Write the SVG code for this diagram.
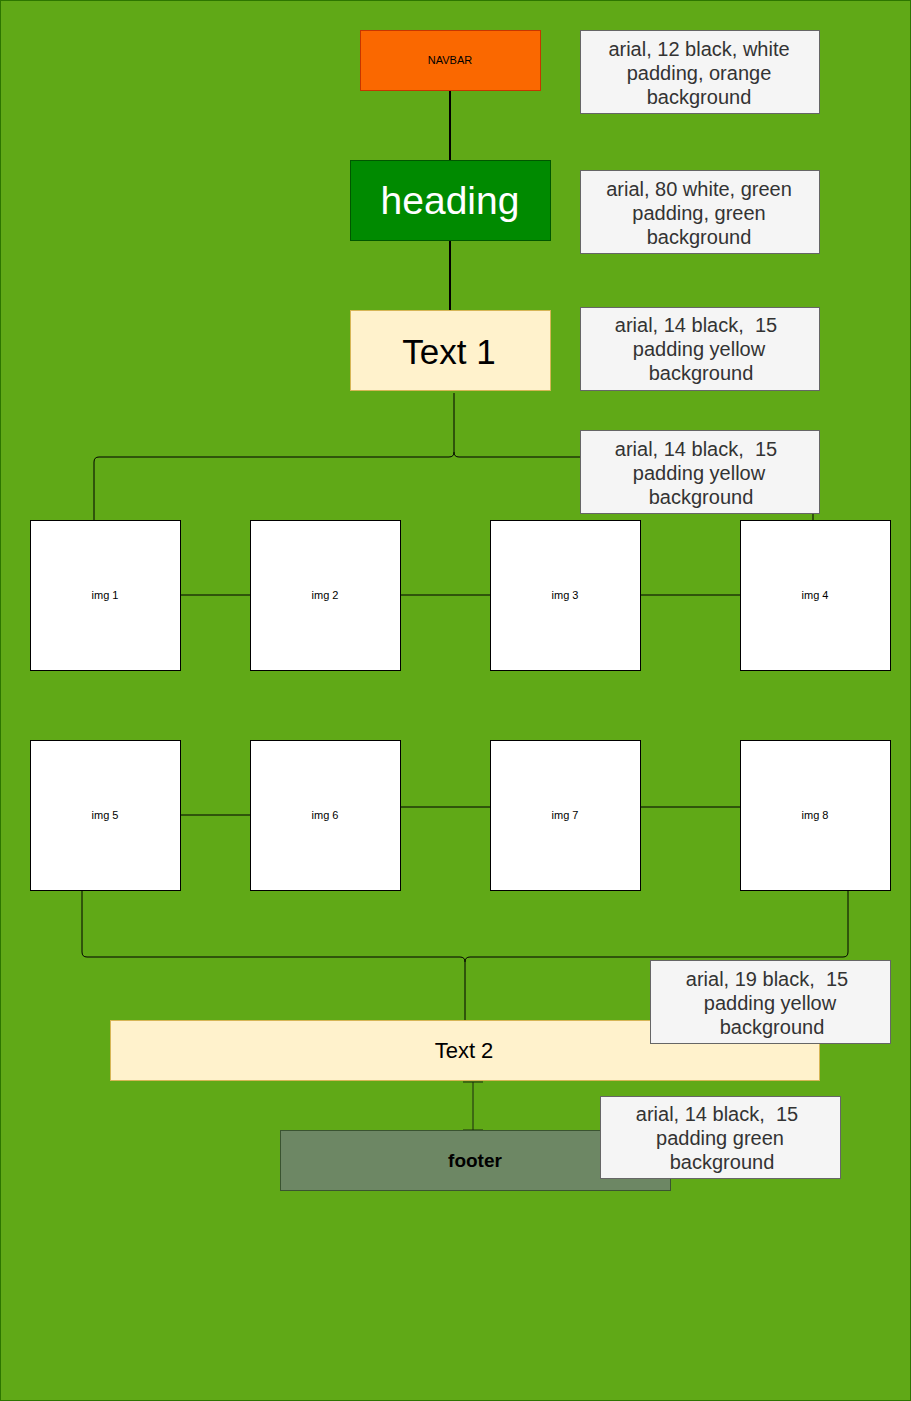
<svg xmlns="http://www.w3.org/2000/svg" width="911" height="1401" viewBox="0 0 911 1401">
<style>
text{font-family:"Liberation Sans",Arial,sans-serif;text-anchor:middle;dominant-baseline:central;white-space:pre}
.note rect{fill:#f5f5f5;stroke:#666666}
.note text{fill:#333333;font-size:20px}
.img rect{fill:#ffffff;stroke:#000000}
.img text{font-size:11px;fill:#000}
.c{fill:none;stroke:#000;stroke-width:1}
.thick{stroke-width:2}
</style>
<rect x="0.5" y="0.5" width="910" height="1400" fill="#60a917" stroke="#2d7600"/>
<g id="connectors">
<line class="c thick" x1="450" y1="90" x2="450" y2="160"/>
<line class="c thick" x1="450" y1="240" x2="450" y2="310"/>
<path class="c" d="M454 393 V452 Q454 457 449 457 H99 Q94 457 94 462 V520"/>
<path class="c" d="M454 452 Q454 457 459 457 H808 Q813 457 813 462 V520"/>
<line class="c" x1="180" y1="595" x2="250" y2="595"/>
<line class="c" x1="400" y1="595" x2="490" y2="595"/>
<line class="c" x1="640" y1="595" x2="740" y2="595"/>
<line class="c" x1="180" y1="815" x2="250" y2="815"/>
<line class="c" x1="400" y1="807" x2="490" y2="807"/>
<line class="c" x1="640" y1="807" x2="740" y2="807"/>
<path class="c" d="M82 888 V952 Q82 957 87 957 H460 Q465 957 465 962 V1020"/>
<path class="c" d="M848 888 V952 Q848 957 843 957 H470 Q465 957 465 962"/>
<path class="c" d="M473 1082 V1130 M463 1082 H483 M463 1130 H483" style="stroke:#1a2a10"/>
</g>
<g id="navbar"><rect x="360.5" y="30.5" width="180" height="60" fill="#fa6800" stroke="#c73500"/><text x="450" y="60" font-size="11" fill="#000">NAVBAR</text></g>
<g id="heading"><rect x="350.5" y="160.5" width="200" height="80" fill="#008a00" stroke="#005700"/><text x="450" y="200" font-size="39" fill="#ffffff">heading</text></g>
<g id="text1"><rect x="350.5" y="310.5" width="200" height="80" fill="#fff2cc" stroke="#d6b656"/><text x="449" y="351" font-size="35" fill="#000">Text 1</text></g>
<g id="note1" class="note"><rect x="580.5" y="30.5" width="239" height="83"/><text x="699" y="49">arial, 12 black, white</text><text x="699" y="73">padding, orange</text><text x="699" y="97">background</text></g>
<g id="note2" class="note"><rect x="580.5" y="170.5" width="239" height="83"/><text x="699" y="189">arial, 80 white, green</text><text x="699" y="213">padding, green</text><text x="699" y="237">background</text></g>
<g id="note3" class="note"><rect x="580.5" y="307.5" width="239" height="83"/><text x="696" y="325">arial, 14 black,  15</text><text x="699" y="349">padding yellow</text><text x="701" y="373">background</text></g>
<g id="note4" class="note"><rect x="580.5" y="430.5" width="239" height="83"/><text x="696" y="449">arial, 14 black,  15</text><text x="699" y="473">padding yellow</text><text x="701" y="497">background</text></g>
<g id="img1" class="img"><rect x="30.5" y="520.5" width="150" height="150"/><text x="105" y="595">img 1</text></g>
<g id="img2" class="img"><rect x="250.5" y="520.5" width="150" height="150"/><text x="325" y="595">img 2</text></g>
<g id="img3" class="img"><rect x="490.5" y="520.5" width="150" height="150"/><text x="565" y="595">img 3</text></g>
<g id="img4" class="img"><rect x="740.5" y="520.5" width="150" height="150"/><text x="815" y="595">img 4</text></g>
<g id="img5" class="img"><rect x="30.5" y="740.5" width="150" height="150"/><text x="105" y="815">img 5</text></g>
<g id="img6" class="img"><rect x="250.5" y="740.5" width="150" height="150"/><text x="325" y="815">img 6</text></g>
<g id="img7" class="img"><rect x="490.5" y="740.5" width="150" height="150"/><text x="565" y="815">img 7</text></g>
<g id="img8" class="img"><rect x="740.5" y="740.5" width="150" height="150"/><text x="815" y="815">img 8</text></g>
<g id="text2"><rect x="110.5" y="1020.5" width="709" height="60" fill="#fff2cc" stroke="#d6b656"/><text x="464" y="1050" font-size="22" fill="#000">Text 2</text></g>
<g id="note5" class="note"><rect x="650.5" y="960.5" width="240" height="83"/><text x="767" y="979">arial, 19 black,  15</text><text x="770" y="1003">padding yellow</text><text x="772" y="1027">background</text></g>
<g id="footer"><rect x="280.5" y="1130.5" width="390" height="60" fill="#6d8764" stroke="#3a5431"/><text x="475" y="1160" font-size="19" font-weight="bold" fill="#000">footer</text></g>
<g id="note6" class="note"><rect x="600.5" y="1096.5" width="240" height="82"/><text x="717" y="1114">arial, 14 black,  15</text><text x="720" y="1138">padding green</text><text x="722" y="1162">background</text></g>
</svg>
